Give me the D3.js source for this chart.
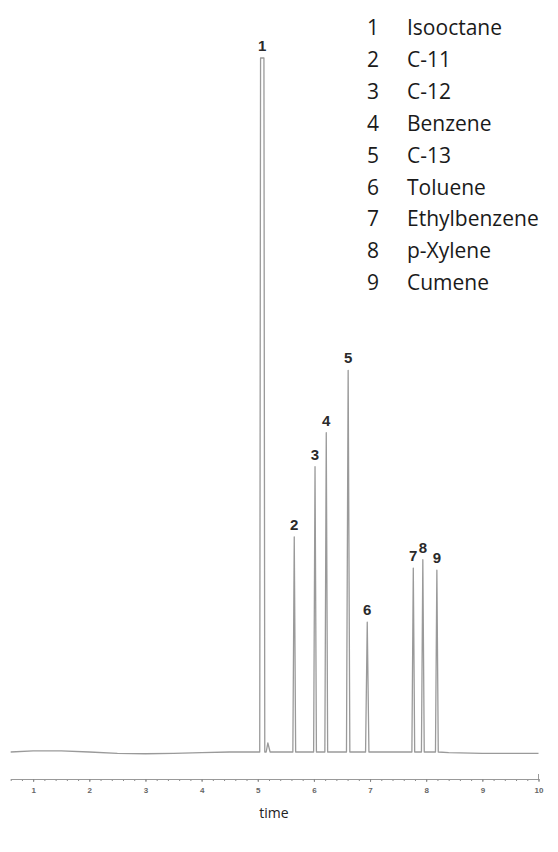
<!DOCTYPE html>
<html>
<head>
<meta charset="utf-8">
<script src="https://cdn.jsdelivr.net/npm/d3@7"></script>
<style>
    body { margin: 0; background: #fff; }
    #chart-container { width: 558px; height: 852px; }
</style>
</head>
<body>
<div id="chart-container"></div>
<script>
// Peak table
const peakNumbers = [1, 2, 3, 4, 5, 6, 7, 8, 9];
const peakNames = ["Isooctane", "C-11", "C-12", "Benzene", "C-13", "Toluene", "Ethylbenzene", "p-Xylene", "Cumene"];
const peakTimes = [5.08, 5.65, 6.02, 6.22, 6.61, 6.95, 7.77, 7.94, 8.19];
const peakHeights = [100, 31.0, 41.1, 46.0, 55.0, 18.7, 26.5, 27.7, 26.2];
const peakWidths = [0.09, 0.05, 0.05, 0.05, 0.06, 0.06, 0.05, 0.05, 0.05];

// small bump right after peak 1
const bumpTimes = [5.18];
const bumpHeights = [1.3];

// baseline drift
const baseTimes = [0.6, 1.0, 1.5, 2.0, 2.5, 3.0, 3.5, 4.0, 4.5, 5.0, 8.4, 9.0, 9.5, 10.0];
const baseValues = [0, 0.15, 0.15, 0, -0.2, -0.25, -0.2, -0.1, 0, 0, -0.1, -0.2, -0.2, -0.2];

// x axis ticks
const majorTicks = [1, 2, 3, 4, 5, 6, 7, 8, 9, 10];
const axisLabel = "time";

document.addEventListener("DOMContentLoaded", function() {
    const width = 558;
    const height = 852;

    const svg = d3.select("#chart-container").append("svg")
        .attr("width", width)
        .attr("height", height)
        .style("background", "#fff");

    const x = d3.scaleLinear().domain([0.6, 10]).range([10.7, 538.5]);
    const y = d3.scaleLinear().domain([0, 100]).range([752, 58]);

    // Build the trace: baseline points plus a narrow spike for each peak
    let points = baseTimes.map((t, i) => [t, baseValues[i]]);
    peakTimes.forEach((t, i) => {
        const w = peakWidths[i];
        points.push([t - w / 2, 0]);
        if (i === 0) {
            // the big peak is drawn as two parallel strokes in the scan
            points.push([t - 0.03, peakHeights[i]]);
            points.push([t + 0.03, peakHeights[i]]);
        } else {
            points.push([t, peakHeights[i]]);
        }
        points.push([t + w / 2, 0]);
    });
    bumpTimes.forEach((t, i) => {
        points.push([t - 0.03, 0]);
        points.push([t, bumpHeights[i]]);
        points.push([t + 0.04, 0]);
    });
    points.sort((a, b) => a[0] - b[0]);

    const line = d3.line()
        .x(d => x(d[0]))
        .y(d => y(d[1]));

    svg.append("path")
        .datum(points)
        .attr("fill", "none")
        .attr("stroke", "#9a9a9a")
        .attr("stroke-width", 1.3)
        .attr("stroke-linejoin", "round")
        .attr("d", line);

    // Peak number labels
    svg.selectAll(".peak-label")
        .data(peakNumbers)
        .enter().append("text")
        .attr("class", "peak-label")
        .attr("x", (d, i) => x(peakTimes[i]))
        .attr("y", (d, i) => y(peakHeights[i]) - 7)
        .attr("text-anchor", "middle")
        .attr("font-family", "Liberation Sans, Arial, sans-serif")
        .attr("font-weight", "bold")
        .attr("font-size", 15)
        .attr("fill", "#2a2a2a")
        .text(d => d);

    // x axis with minor ticks every 0.2
    const minorTicks = d3.range(0.6, 10.01, 0.2);
    const axisY = 779;
    const axis = svg.append("g")
        .attr("transform", `translate(0,${axisY})`);

    axis.call(d3.axisBottom(x)
        .tickValues(minorTicks)
        .tickSize(2)
        .tickSizeOuter(0)
        .tickFormat(""));

    axis.append("g").call(d3.axisBottom(x)
        .tickValues(majorTicks)
        .tickSize(3)
        .tickSizeOuter(0)
        .tickPadding(5)
        .tickFormat(d3.format("d")));

    axis.selectAll(".domain").attr("stroke", "#999").attr("stroke-width", 1.2);
    axis.selectAll(".tick line").attr("stroke", "#888");
    axis.selectAll(".tick text")
        .attr("font-family", "Liberation Sans, Arial, sans-serif")
        .attr("font-size", 8)
        .attr("font-weight", "bold")
        .attr("fill", "#666");

    // end tick pointing up at 10
    axis.append("line")
        .attr("x1", x(10)).attr("x2", x(10))
        .attr("y1", 0).attr("y2", -5)
        .attr("stroke", "#999");

    svg.append("text")
        .attr("x", 274)
        .attr("y", 818)
        .attr("text-anchor", "middle")
        .attr("font-family", "Open Sans, sans-serif")
        .attr("font-size", 14)
        .attr("fill", "#222")
        .text(axisLabel);

    // Legend list at top right
    const legend = svg.selectAll(".legend")
        .data(peakNames)
        .enter().append("g")
        .attr("class", "legend")
        .attr("transform", (d, i) => "translate(0," + (35 + i * 31.9) + ")");

    legend.append("text")
        .attr("x", 379)
        .attr("text-anchor", "end")
        .attr("font-family", "Open Sans, sans-serif")
        .attr("font-size", 21)
        .attr("fill", "#1a1a1a")
        .text((d, i) => peakNumbers[i]);

    legend.append("text")
        .attr("x", 407)
        .attr("font-family", "Open Sans, sans-serif")
        .attr("font-size", 21)
        .attr("fill", "#1a1a1a")
        .text(d => d);
});
</script>
</body>
</html>
